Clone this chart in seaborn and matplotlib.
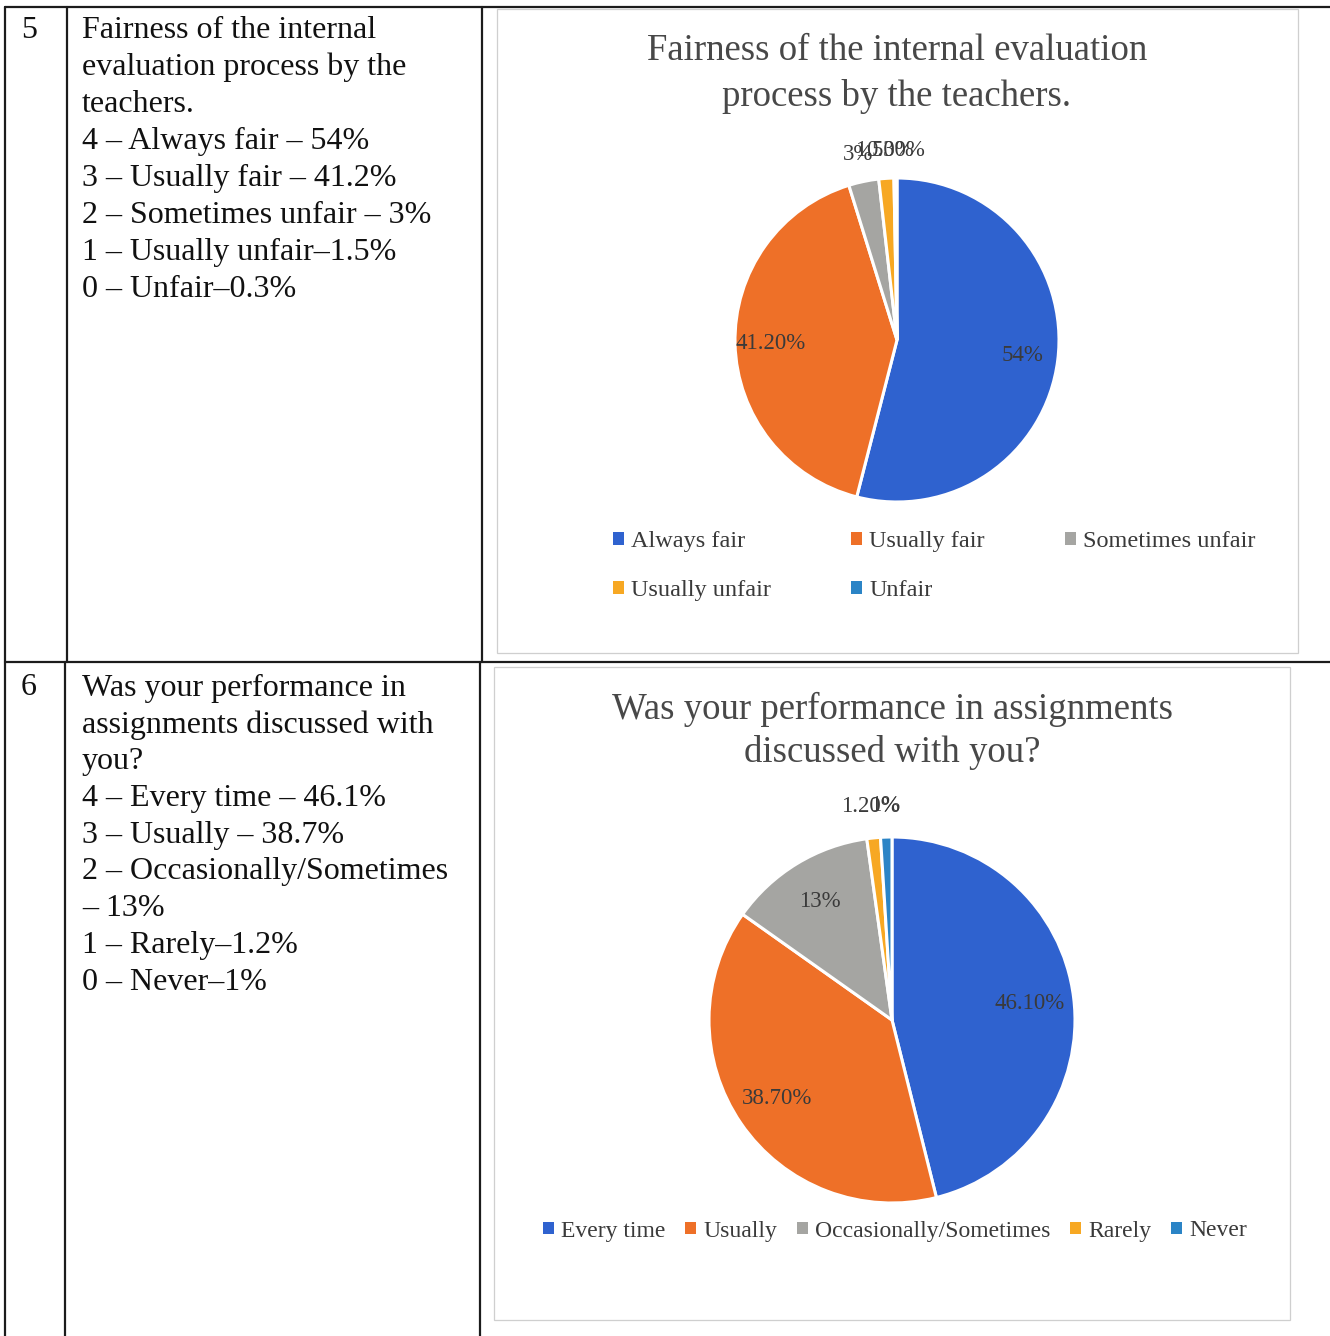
import numpy as np
import matplotlib
matplotlib.use("Agg")
import matplotlib.pyplot as plt
from matplotlib.lines import Line2D
from matplotlib.patches import Rectangle, Patch
import seaborn as sns

sns.set_theme(style="white")
plt.rcParams["font.family"] = ["Liberation Serif", "DejaVu Serif"]

# ---- data -------------------------------------------------------------
fair_labels = ["Always fair", "Usually fair", "Sometimes unfair", "Usually unfair", "Unfair"]
fair_values = [54, 41.2, 3, 1.5, 0.3]

disc_labels = ["Every time", "Usually", "Occasionally/Sometimes", "Rarely", "Never"]
disc_values = [46.1, 38.7, 13, 1.2, 1]

slice_colors = ["#2F62CF", "#EE7028", "#A5A5A2", "#F7A823", "#2B84C6"]

q5_number = "5"
q5_lines = ["Fairness of the internal", "evaluation process by the", "teachers.",
            "4 – Always fair – 54%", "3 – Usually fair – 41.2%",
            "2 – Sometimes unfair – 3%", "1 – Usually unfair–1.5%", "0 – Unfair–0.3%"]
q5_title = ["Fairness of the internal evaluation", "process by the teachers."]

q6_number = "6"
q6_lines = ["Was your performance in", "assignments discussed with", "you?",
            "4 – Every time – 46.1%", "3 – Usually – 38.7%",
            "2 – Occasionally/Sometimes", "– 13%", "1 – Rarely–1.2%", "0 – Never–1%"]
q6_title = ["Was your performance in assignments", "discussed with you?"]

# ---- figure in pixel units -------------------------------------------
W, H = 1330, 1336
fig = plt.figure(figsize=(W / 100, H / 100), dpi=100)
fig.patch.set_facecolor("white")


def fx(x):
    return x / W


def fy(y):
    return 1 - y / H


def hline(x0, x1, y, color="#1c1c1c", lw=1.6):
    fig.add_artist(Line2D([fx(x0), fx(x1)], [fy(y), fy(y)], color=color, lw=lw))


def vline(x, y0, y1, color="#1c1c1c", lw=1.6):
    fig.add_artist(Line2D([fx(x), fx(x)], [fy(y0), fy(y1)], color=color, lw=lw))


def box(x0, y0, x1, y1):
    fig.add_artist(Rectangle((fx(x0), fy(y1)), fx(x1) - fx(x0), fy(y0) - fy(y1),
                             fill=False, edgecolor="#cfcfcf", lw=0.9))


# table grid
hline(5, 1330, 7)
hline(5, 1330, 662)
vline(5, 7, 1336)
vline(67, 7, 662)
vline(65, 662, 1336)
vline(482, 7, 662)
vline(480, 662, 1336)

# chart frames
box(497, 9, 1298, 653)
box(494, 667, 1290, 1320)


# left column text
def text_block(number, lines, y0, step, ny):
    fig.text(fx(29), fy(ny), number, fontsize=23, color="#111111", ha="center", va="center")
    for i, line in enumerate(lines):
        fig.text(fx(82), fy(y0 + i * step), line, fontsize=23, color="#111111",
                 ha="left", va="center")


text_block(q5_number, q5_lines, 30, 37.1, 30)
text_block(q6_number, q6_lines, 688, 36.8, 688)


def pct_text(v):
    return f"{v:g}%" if float(v).is_integer() else f"{v:.2f}%"


def draw_pie(cx, cy, r, values, labels, title, title_ys, title_size, inner):
    pad = 1.4
    ax = fig.add_axes([fx(cx - r * pad), fy(cy + r * pad), 2 * r * pad / W, 2 * r * pad / H])
    wedges, _ = ax.pie(values, colors=slice_colors, startangle=90, counterclock=False,
                       radius=1, wedgeprops=dict(edgecolor="white", linewidth=2.2))
    ax.set_xlim(-pad, pad)
    ax.set_ylim(-pad, pad)
    ax.set_aspect("equal")
    ax.axis("off")
    for w, v in zip(wedges, values):
        ang = np.deg2rad((w.theta1 + w.theta2) / 2)
        d = inner if v >= 5 else 1.17
        ax.text(d * np.cos(ang), d * np.sin(ang), pct_text(v), ha="center", va="center",
                fontsize=16.5, color="#3a3a3a")
    for line, ty in zip(title, title_ys):
        fig.text(fx(cx), fy(ty), line, ha="center", va="center", fontsize=title_size,
                 color="#484848")
    return ax


ax1 = draw_pie(897, 340, 162, fair_values, fair_labels, q5_title, [51, 96], 26.5, 0.78)
ax2 = draw_pie(892, 1020, 183, disc_values, disc_labels, q6_title, [709, 753], 26.5, 0.76)

handles1 = [Patch(facecolor=c, edgecolor="none") for c in slice_colors]
order1 = [0, 3, 1, 4, 2]
ax1.legend([handles1[i] for i in order1], [fair_labels[i] for i in order1], ncol=3,
           loc="upper left", bbox_to_anchor=(fx(591), fy(509)), bbox_transform=fig.transFigure,
           frameon=False, fontsize=17.5, handlelength=0.45, handleheight=0.45,
           handletextpad=0.3, columnspacing=3.3, labelspacing=1.15, labelcolor="#3a3a3a")

handles2 = [Patch(facecolor=c, edgecolor="none") for c in slice_colors]
ax2.legend(handles2, disc_labels, ncol=5, loc="center", bbox_to_anchor=(fx(895), fy(1231)),
           bbox_transform=fig.transFigure, frameon=False, fontsize=17,
           handlelength=0.45, handleheight=0.45, handletextpad=0.3, columnspacing=0.85,
           labelcolor="#3a3a3a")

fig.savefig("out.png", dpi=100, facecolor="white")
